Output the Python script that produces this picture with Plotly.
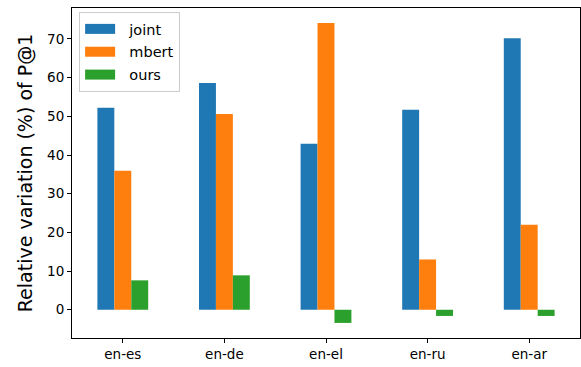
import plotly.graph_objects as go

# Language pairs and relative P@1 variation (%) per method
pairs = ["en-es", "en-de", "en-el", "en-ru", "en-ar"]
joint = [52.2, 58.6, 42.9, 51.7, 70.2]
mbert = [35.9, 50.6, 74.1, 13.0, 22.0]
ours = [7.6, 8.9, -3.4, -1.6, -1.6]

series = [
    ("joint", joint, "#1f77b4"),
    ("mbert", mbert, "#ff7f0e"),
    ("ours", ours, "#2ca02c"),
]

fig = go.Figure()
for name, vals, color in series:
    fig.add_trace(go.Bar(x=pairs, y=vals, name=name, showlegend=False,
                         legendgroup=name,
                         marker=dict(color=color, line=dict(width=0))))
    # wide patch-style legend key for the series (label padded from the key)
    fig.add_trace(go.Scatter(x=[None], y=[None], mode="lines",
                             name="\u00a0\u00a0" + name,
                             legendgroup=name,
                             line=dict(color=color, width=12)))

axis_font = dict(family="DejaVu Sans", size=13.5, color="black")

fig.update_layout(
    width=581,
    height=367,
    margin=dict(l=72, r=1, t=8, b=29),
    barmode="group",
    bargap=0.5,
    bargroupgap=0,
    plot_bgcolor="white",
    paper_bgcolor="white",
    font=dict(family="DejaVu Sans", color="black"),
    legend=dict(
        x=0.014, y=0.988, xanchor="left", yanchor="top",
        bgcolor="rgba(255,255,255,0.8)",
        bordercolor="#cccccc", borderwidth=1,
        font=dict(family="DejaVu Sans", size=14.5, color="black"),
        tracegroupgap=1,
        itemwidth=30,
    ),
    xaxis=dict(
        range=[-0.5, 4.5],
        showgrid=False, zeroline=False,
        showline=True, linecolor="black", linewidth=1, mirror=True,
        ticks="outside", ticklen=4, tickcolor="black", tickwidth=1,
        tickfont=axis_font,
    ),
    yaxis=dict(
        range=[-7.3, 78.0],
        tickvals=[0, 10, 20, 30, 40, 50, 60, 70],
        showgrid=False, zeroline=False,
        showline=True, linecolor="black", linewidth=1, mirror=True,
        ticks="outside", ticklen=4, tickcolor="black", tickwidth=1,
        tickfont=axis_font,
        title=dict(text="Relative variation (%) of P@1",
                   font=dict(family="DejaVu Sans", size=19, color="black"),
                   standoff=9),
    ),
)

fig.write_html("out.html")
